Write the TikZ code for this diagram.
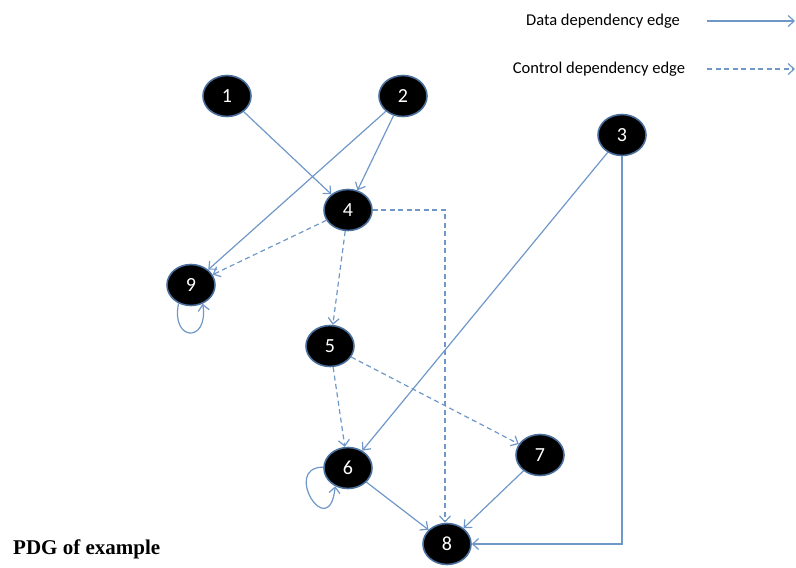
\documentclass[tikz,border=0pt]{standalone}
\usepackage{fontspec}
\setmainfont{Carlito}
\newfontfamily\titlefont{Liberation Serif}
\usetikzlibrary{arrows.meta,shapes.geometric}
\definecolor{edgeblue}{HTML}{6F97C8}
\definecolor{rimblue}{HTML}{4A6F9C}
\tikzset{
  vtx/.style={ellipse, fill=black, draw=rimblue, line width=1.6pt,
    minimum width=48pt, minimum height=41pt, inner sep=0pt,
    text=white, font=\fontsize{20}{22}\selectfont},
  dep/.style={draw=edgeblue, line width=1.2pt,
    -{Straight Barb[length=6pt,width=11pt]}},
  ctl/.style={dep, dash pattern=on 5pt off 3.5pt},
  legtext/.style={font=\fontsize{16.5}{18}\selectfont, anchor=center}
}
\begin{document}
\begin{tikzpicture}[x=1pt,y=-1pt]
\useasboundingbox (0,0) rectangle (796,568);

% vertices of the dependence graph
\node[vtx] (n1) at (227,96)  {1};
\node[vtx] (n2) at (403,96)  {2};
\node[vtx] (n3) at (622,135) {3};
\node[vtx] (n4) at (348,210) {4};
\node[vtx] (n9) at (191,285) {9};
\node[vtx] (n5) at (330,346) {5};
\node[vtx] (n6) at (348,468) {6};
\node[vtx] (n7) at (540,455) {7};
\node[vtx] (n8) at (447,544) {8};

% corners of the routed edges
\coordinate (c48) at (445,210);
\coordinate (c38) at (622,544);

% data dependency edges
\draw[dep] (n1) -- (n4);
\draw[dep] (n2) -- (n4);
\draw[dep] (n2) -- (n9);
\draw[dep] (n3) -- (n6);
\draw[dep] (n3.south) -- (c38) -- (n8.east);
\draw[dep] (n6) -- (n8);
\draw[dep] (n7) -- (n8);
\draw[dep] (n9.236) .. controls +(-8,38) and +(6,40) .. (n9.302);
\draw[dep] (n6.178) .. controls +(-42,0) and +(-6,58) .. (n6.235);

% control dependency edges
\draw[ctl] (n4) -- (n9);
\draw[ctl] (n4) -- (n5);
\draw[ctl] (n4.east) -- (c48) -- (n8.north -| c48);
\draw[ctl] (n5) -- (n6);
\draw[ctl] (n5) -- (n7);

% legend
\node[legtext] (ld) at (603,21) {Data dependency edge};
\node[legtext] (lc) at (599,69) {Control dependency edge};
\coordinate (ld0) at (707,21);
\coordinate (ld1) at (795,21);
\coordinate (lc0) at (707,69);
\coordinate (lc1) at (795,69);
\draw[dep] (ld0) -- (ld1);
\draw[ctl] (lc0) -- (lc1);

% caption
\node[anchor=west, inner sep=0pt, font=\titlefont\bfseries\fontsize{21}{24}\selectfont] (cap) at (13,549) {PDG of example};
\end{tikzpicture}
\end{document}
